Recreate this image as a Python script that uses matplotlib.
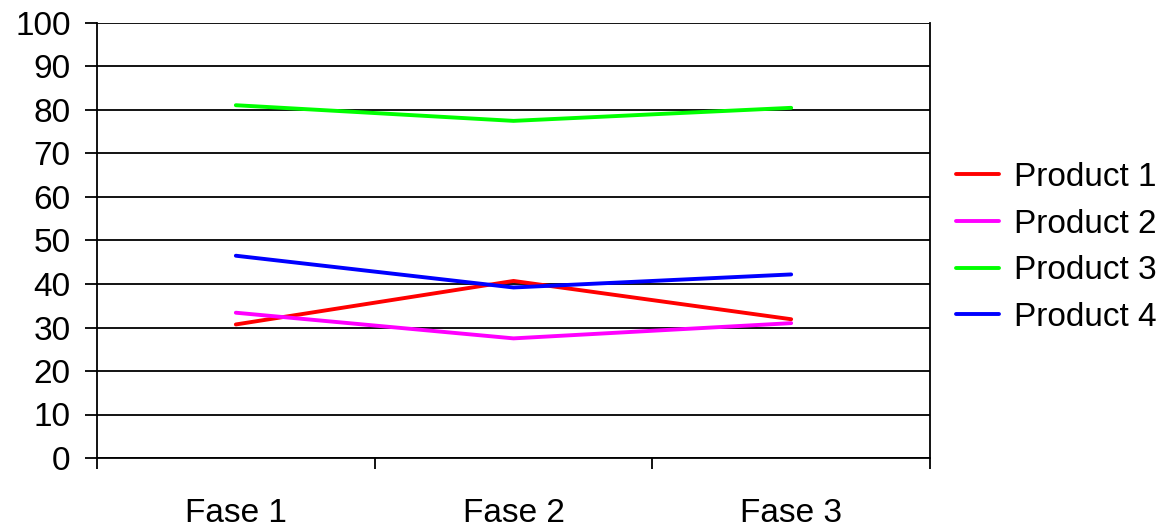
import matplotlib
matplotlib.use("Agg")
import matplotlib.pyplot as plt

categories = ["Fase 1", "Fase 2", "Fase 3"]
series_names = ["Product 1", "Product 2", "Product 3", "Product 4"]
product1 = [30.7, 40.7, 31.9]
product2 = [33.4, 27.5, 31.0]
product3 = [81.1, 77.5, 80.5]
product4 = [46.5, 39.2, 42.2]
colors = ["#ff0000", "#ff00ff", "#00ff00", "#0000ff"]
yticks = list(range(0, 101, 10))

plt.rcParams['font.family'] = ['Liberation Sans', 'DejaVu Sans']

fig = plt.figure(figsize=(11.62, 5.28), dpi=100)
ax = fig.add_axes([97/1162, 1-458/528, (930-97)/1162, (458-23)/528])

x = list(range(len(categories)))
for vals, name, c in zip([product1, product2, product3, product4], series_names, colors):
    ax.plot(x, vals, color=c, lw=2.8, label=name, solid_capstyle='round')

ax.set_ylim(0, 100)
ax.set_xlim(-0.5, len(categories) - 0.5)
ax.set_yticks(yticks)
ax.set_yticklabels([str(v) for v in yticks], fontsize=24)
ax.yaxis.grid(True, color='black', lw=1.3)
ax.set_axisbelow(True)
ax.tick_params(axis='y', length=9, width=1.3, pad=10, direction='out')

ax.set_xticks([i - 0.5 for i in range(len(categories) + 1)])
ax.set_xticklabels([])
ax.set_xticks(x, minor=True)
ax.set_xticklabels(categories, minor=True, fontsize=24)
ax.tick_params(axis='x', which='major', length=8, width=1.3, direction='out')
ax.tick_params(axis='x', which='minor', length=0, pad=29)

for s in ax.spines.values():
    s.set_linewidth(1.3)
    s.set_color('black')
ax.spines['top'].set_visible(False)

fig.legend(loc='center left', bbox_to_anchor=(956/1162, 1-247.5/528),
           frameon=False, fontsize=24, handlelength=1.3, handletextpad=0.45,
           labelspacing=0.47, borderpad=0, borderaxespad=0)

fig.savefig("out.png", dpi=100)
